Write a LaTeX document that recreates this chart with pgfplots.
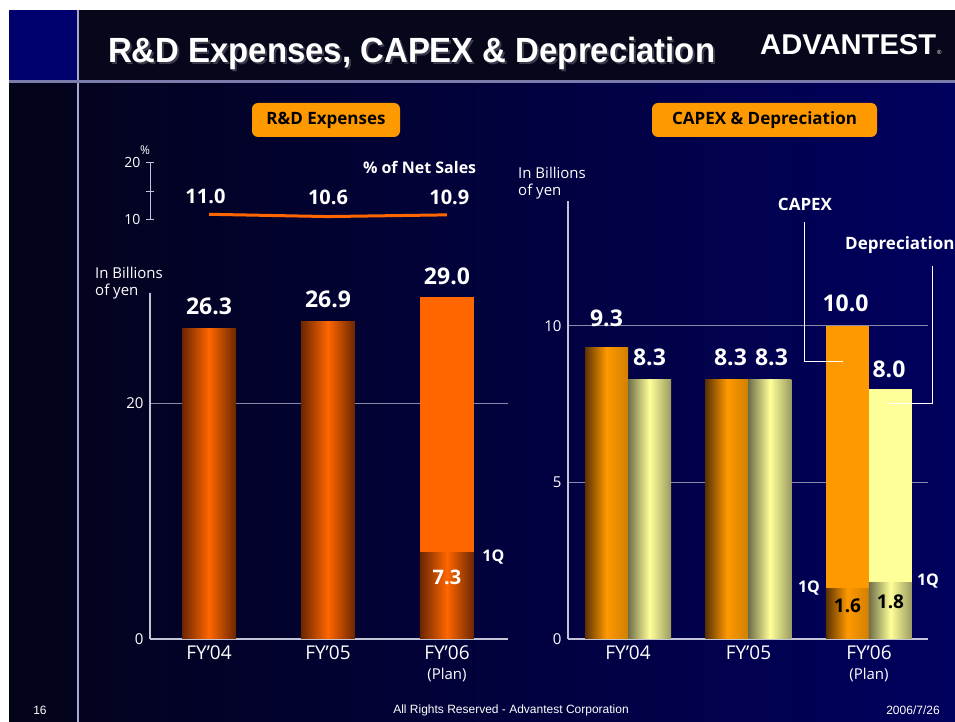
\documentclass[border=0pt]{standalone}
\usepackage{pgfplots}
\pgfplotsset{compat=1.18}
\usepackage{fontspec}
\setmainfont{Liberation Sans}
\newfontfamily\osans{Open Sans}

% colours
\definecolor{headbg}{HTML}{07071C}
\definecolor{bodyL}{HTML}{03031A}
\definecolor{bodyR}{HTML}{00005E}
\definecolor{navysq}{HTML}{00006E}
\definecolor{vline}{HTML}{A8A8C8}
\definecolor{hline}{HTML}{7C7CAC}
\definecolor{axisc}{HTML}{C4C4D8}
\definecolor{gridc}{HTML}{8A8AA8}
\definecolor{rdO}{HTML}{FF6600}
\definecolor{rdD}{HTML}{6B2600}
\definecolor{cxO}{HTML}{FF9900}
\definecolor{cxD}{HTML}{5C3300}
\definecolor{cxR}{HTML}{D08000}
\definecolor{dpY}{HTML}{FFFF99}
\definecolor{dpD}{HTML}{6F6F4A}
\definecolor{dpR}{HTML}{9A9A62}
\definecolor{boxO}{HTML}{FF9900}
\definecolor{shadowc}{HTML}{3A3A4A}

\newcommand\fs[1]{\fontsize{#1}{#1}\selectfont}

\pgfplotsset{
  rdbar/.style={ybar, bar width=54pt, draw=none, left color=rdD, right color=rdD, middle color=rdO},
  cxbar/.style={ybar, bar width=43pt, bar shift=-21.5pt, draw=none, left color=cxD, right color=cxR, middle color=cxO},
  dpbar/.style={ybar, bar width=43pt, bar shift=21.5pt, draw=none, left color=dpD, right color=dpR, middle color=dpY},
  slideaxis/.style={
    scale only axis, anchor=south west,
    axis lines=left, axis line style={-, draw=axisc, line width=1.2pt},
    xtick={0,1,2},
    xticklabels={FY’04, FY’05, {FY’06\\[1pt]{\fs{15}(Plan)}}},
    xticklabel style={align=center, font=\osans\fs{19}, text=white, yshift=-3pt},
    yticklabel style={font=\osans\fs{15}, text=white, xshift=-3pt},
    ymajorgrids, grid style={gridc, line width=1pt},
    major tick length=0pt,
    /pgf/number format/assume math mode=true,
    clip=false,
  },
}

\begin{document}
\begin{tikzpicture}[
  vlab/.style={text=white, inner sep=0pt, anchor=base, font=\osans\fs{23}\bfseries},
  blab/.style={text=white, inner sep=0pt, font=\osans\fs{16}\bfseries},
  unit/.style={text=white, inner sep=0pt, anchor=west, font=\osans\fs{15}},
]
\useasboundingbox (0pt,0pt) rectangle (955pt,722pt);
\clip (0pt,0pt) rectangle (955pt,722pt);

% slide background
\fill[white] (0pt,0pt) rectangle (955pt,722pt);
\fill[headbg] (9pt,640pt) rectangle (955pt,712pt);
\shade[left color=bodyL, right color=bodyR] (9pt,0pt) rectangle (955pt,640pt);
\fill[navysq] (9pt,640pt) rectangle (78pt,712pt);
\draw[vline, line width=2.5pt] (78pt,0pt) -- (78pt,712pt);
\draw[hline, line width=3pt] (9pt,640pt) -- (955pt,640pt);

% title and logo
\node[anchor=base west, inner sep=0, text=shadowc] at (110pt,657pt)
  {\resizebox{607pt}{\height}{\fs{35}\bfseries R\&D Expenses, CAPEX \& Depreciation}};
\node[anchor=base west, inner sep=0, text=white] at (108pt,659pt)
  {\resizebox{607pt}{\height}{\fs{35}\bfseries R\&D Expenses, CAPEX \& Depreciation}};
\node[anchor=base west, inner sep=0, text=white] at (760pt,667pt)
  {\resizebox{176pt}{20pt}{\bfseries ADVANTEST}};
\node[anchor=base west, inner sep=0, text=white, font=\fs{6}] at (937pt,667pt) {®};

% section boxes
\node[fill=boxO, rounded corners=6pt, minimum width=148pt, minimum height=34pt,
  inner sep=0, font=\osans\fs{17}\bfseries] at (326pt,602pt) {R\&D Expenses};
\node[fill=boxO, rounded corners=6pt, minimum width=225pt, minimum height=34pt,
  inner sep=0, font=\osans\fs{17}\bfseries] at (764.5pt,602pt) {CAPEX \& Depreciation};

% units
\node[unit] at (95pt,449pt) {In Billions};
\node[unit] at (95pt,430pt) {of yen};
\node[unit] at (518pt,549pt) {In Billions};
\node[unit] at (518pt,530pt) {of yen};
\node[text=white, inner sep=0, font=\osans\fs{12}] at (145pt,572pt) {\%};

% ---- % of net sales ----
\begin{axis}[
  at={(150pt,502pt)}, anchor=south west, scale only axis,
  width=358pt, height=57pt,
  xmin=-0.496, xmax=2.513, ymin=10, ymax=20,
  axis x line=none, axis y line=left,
  axis line style={-, draw=axisc, line width=1pt},
  xtick=\empty, ytick={10,15,20}, yticklabels={10,,20},
  major tick length=8pt, tick style={draw=axisc, line width=1pt},
  yticklabel style={font=\osans\fs{14}, text=white, xshift=-2pt},
  clip=false,
]
\addplot[draw=rdO, line width=3pt] coordinates {(0,11.0) (1,10.6) (2,10.9)};
\node[vlab, font=\osans\fs{20}\bfseries, anchor=center] at (axis cs:-0.03,14.2) {11.0};
\node[vlab, font=\osans\fs{20}\bfseries, anchor=center] at (axis cs:1,13.9) {10.6};
\node[vlab, font=\osans\fs{20}\bfseries, anchor=center] at (axis cs:2.02,13.9) {10.9};
\node[blab, anchor=center] at (axis cs:1.77,19.3) {\% of Net Sales};
\end{axis}

% ---- R&D expenses ----
\begin{axis}[slideaxis,
  at={(150pt,83pt)}, width=358pt, height=345.7pt,
  xmin=-0.496, xmax=2.513, ymin=0, ymax=29.3,
  ytick={0,20},
]
\addplot[rdbar] coordinates {(0,26.3)};
\addplot[rdbar] coordinates {(1,26.9)};
\addplot[ybar, bar width=54pt, draw=none, fill=rdO] coordinates {(2,29.0)};
\addplot[rdbar] coordinates {(2,7.3)};
\node[vlab] at (axis cs:0,26.3) [yshift=14pt] {26.3};
\node[vlab] at (axis cs:1,26.9) [yshift=14pt] {26.9};
\node[vlab] at (axis cs:2,29.0) [yshift=12pt] {29.0};
\node[blab, font=\osans\fs{20}\bfseries, anchor=center] at (axis cs:2,5.25) {7.3};
\node[blab, anchor=center] at (axis cs:2.39,6.95) {1Q};
\end{axis}

% ---- CAPEX & depreciation ----
\begin{axis}[slideaxis,
  at={(568pt,83pt)}, width=360pt, height=438.2pt,
  xmin=-0.498, xmax=2.49, ymin=0, ymax=14,
  ytick={0,5,10},
]
\addplot[cxbar] coordinates {(0,9.3)};
\addplot[cxbar] coordinates {(1,8.3)};
\addplot[dpbar] coordinates {(0,8.3)};
\addplot[dpbar] coordinates {(1,8.3)};
\addplot[ybar, bar width=43pt, bar shift=-21.5pt, draw=none, fill=cxO] coordinates {(2,10.0)};
\addplot[ybar, bar width=43pt, bar shift=21.5pt, draw=none, fill=dpY] coordinates {(2,8.0)};
\addplot[cxbar] coordinates {(2,1.6)};
\addplot[dpbar] coordinates {(2,1.8)};
\node[vlab] at (axis cs:0,9.3) [xshift=-21.5pt, yshift=21pt] {9.3};
\node[vlab] at (axis cs:0,8.3) [xshift=21.5pt, yshift=14pt] {8.3};
\node[vlab] at (axis cs:1,8.3) [xshift=-18pt, yshift=14pt] {8.3};
\node[vlab] at (axis cs:1,8.3) [xshift=23pt, yshift=14pt] {8.3};
\node[vlab] at (axis cs:2,10.0) [xshift=-23.5pt, yshift=14pt] {10.0};
\node[vlab] at (axis cs:2,8.0) [xshift=20pt, yshift=11pt] {8.0};
\node[text=black, inner sep=0, font=\osans\fs{19}\bfseries, anchor=center] at (axis cs:2,1.05) [xshift=-21.5pt] {1.6};
\node[text=black, inner sep=0, font=\osans\fs{19}\bfseries, anchor=center] at (axis cs:2,1.18) [xshift=21.5pt] {1.8};
\node[blab, anchor=center] at (axis cs:1.502,1.63) {1Q};
\node[blab, anchor=center] at (axis cs:2.49,1.85) {1Q};
\end{axis}

% callouts
\node[blab, font=\osans\fs{17}\bfseries, anchor=center] at (805pt,518pt) {CAPEX};
\draw[white, line width=1pt] (804pt,500pt) -- (804pt,360pt) -- (843pt,360pt);
\node[blab, font=\osans\fs{17}\bfseries, anchor=west] at (845pt,477pt) {Depreciation};
\draw[white, line width=1pt] (932pt,456pt) -- (932pt,318pt) -- (889pt,318pt);

% footer
\node[text=white, inner sep=0, font=\fs{12}] at (40pt,12pt) {16};
\node[text=white, inner sep=0, font=\fs{12}] at (511pt,12pt) {All Rights Reserved - Advantest Corporation};
\node[text=white, inner sep=0, font=\fs{12}] at (913pt,12pt) {2006/7/26};
\end{tikzpicture}
\end{document}
